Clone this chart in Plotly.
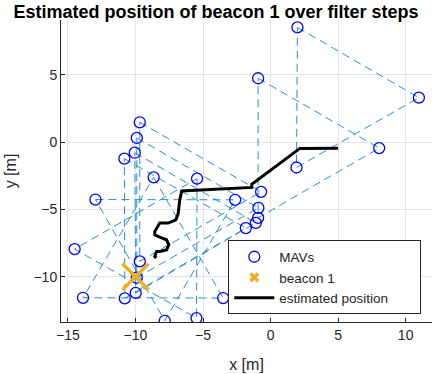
import plotly.graph_objects as go

# MAV positions, grouped as 9 triangles (3 MAVs per filter step)
mav_x = [1.99, 10.98, 1.92,
         -0.92, 8.04, -0.92,
         -9.68, -0.70, -9.68,
         -9.90, -0.90, -9.90,
         -10.05, -1.09, -9.98,
         -10.82, -1.83, -10.79,
         -8.65, -3.51, -13.88,
         -12.96, -2.62, -7.83,
         -5.44, -5.48, -14.50]
mav_y = [8.53, 3.31, -1.88,
         4.75, -0.44, -5.62,
         1.48, -3.69, -8.86,
         0.32, -4.88, -10.07,
         -0.78, -5.99, -11.20,
         -1.22, -6.38, -11.60,
         -2.61, -11.58, -11.56,
         -4.26, -4.28, -13.27,
         -2.71, -13.07, -7.94]

beacon_x = [-10.0]
beacon_y = [-10.0]

est_x = [5.0, 2.17, -1.39, -1.39, -6.57, -6.72, -6.84, -7.01, -7.59, -8.2,
         -8.57, -8.57, -8.2, -7.7, -7.53, -7.7, -8.2, -8.44, -8.57, -8.46]
est_y = [-0.45, -0.46, -3.13, -3.36, -3.62, -4.28, -5.32, -5.77, -6.01, -6.01,
         -6.64, -6.88, -7.05, -7.25, -7.62, -8.0, -8.12, -8.12, -8.49, -8.59]

x_ticks = [-15, -10, -5, 0, 5, 10]
y_ticks = [-10, -5, 0, 5]

# closed triangles for the dashed connections
tri_x, tri_y = [], []
for k in range(0, len(mav_x), 3):
    idx = [k, k + 1, k + 2, k]
    tri_x += [mav_x[i] for i in idx] + [None]
    tri_y += [mav_y[i] for i in idx] + [None]

FONT = "Liberation Sans, Arial, sans-serif"
PAD = "\u00a0" * 7
fig = go.Figure()
fig.add_trace(go.Scatter(x=tri_x, y=tri_y, mode="lines", showlegend=False,
                         line=dict(color="#2a8fd0", width=1, dash="8px,5px"),
                         hoverinfo="skip"))
fig.add_trace(go.Scatter(x=mav_x, y=mav_y, mode="markers", name="MAVs",
                         marker=dict(symbol="circle-open", size=11,
                                     color="#0000ff", line=dict(width=1.3))))
fig.add_trace(go.Scatter(x=beacon_x, y=beacon_y, mode="markers", showlegend=False,
                         marker=dict(symbol="x-thin", size=26,
                                     line=dict(width=3.5, color="#EDB120"))))
fig.add_trace(go.Scatter(x=[None], y=[None], mode="markers", name="beacon 1",
                         marker=dict(symbol="x", size=9, color="#EDB120")))
fig.add_trace(go.Scatter(x=est_x, y=est_y, mode="lines", name="estimated position" + PAD,
                         line=dict(color="black", width=3)))

axis_common = dict(showgrid=True, gridcolor="#e3e3e3", gridwidth=1,
                   zeroline=False, showline=True, linecolor="#262626", linewidth=1,
                   ticks="inside", ticklen=4, tickcolor="#262626",
                   tickfont=dict(family=FONT, size=14, color="#262626"))
fig.update_xaxes(range=[-15.51, 11.95], tickvals=x_ticks,
                 title=dict(text="x [m]", font=dict(family=FONT, size=16, color="#262626"),
                            standoff=17),
                 **axis_common)
fig.update_yaxes(range=[-13.36, 9.08], tickvals=y_ticks,
                 title=dict(text="y [m]", font=dict(family=FONT, size=16, color="#262626"),
                            standoff=12),
                 **axis_common)

fig.update_layout(
    width=432, height=374,
    margin=dict(l=61, r=0, t=20, b=52),
    paper_bgcolor="white", plot_bgcolor="white",
    title=dict(text="<b>Estimated position of beacon 1 over filter steps</b>",
               x=0.5, xref="container", xanchor="center", y=0.968, yanchor="middle",
               font=dict(family=FONT, size=18, color="black")),
    legend=dict(x=0.451, y=0.025, xanchor="left", yanchor="bottom",
                bgcolor="white", bordercolor="#262626", borderwidth=1,
                font=dict(family=FONT, size=13.5, color="#262626"),
                tracegroupgap=0, itemwidth=40),
    font=dict(family=FONT),
)

fig.write_html("out.html")
